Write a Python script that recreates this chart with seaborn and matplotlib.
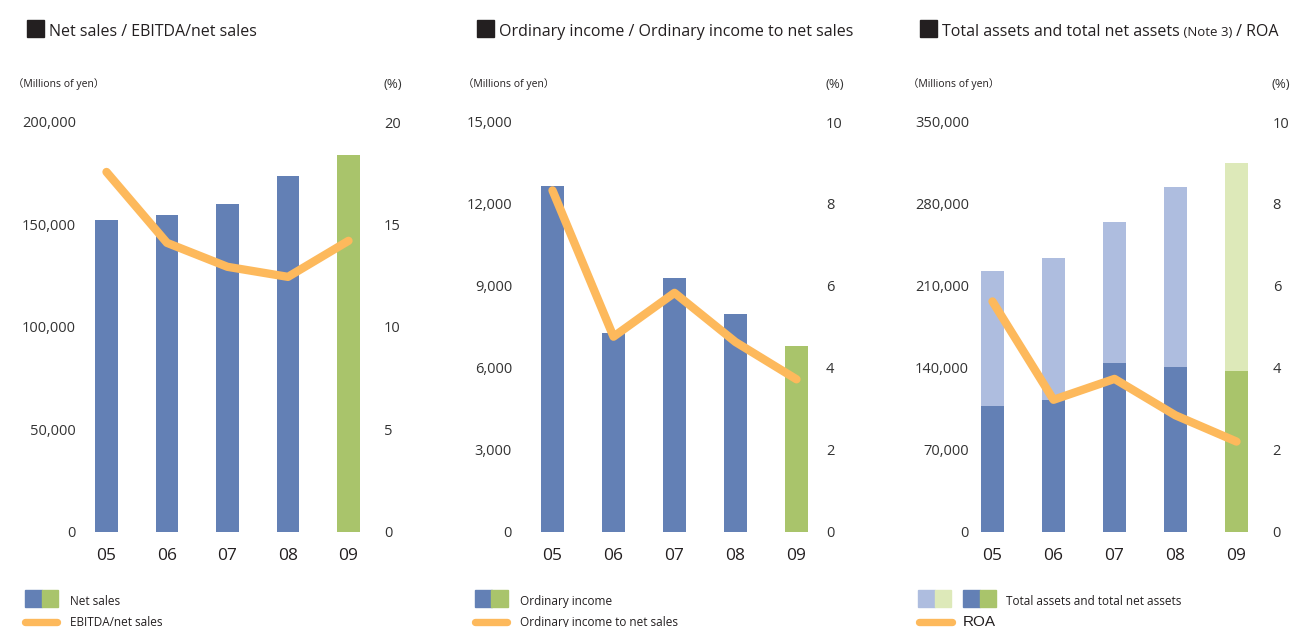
import numpy as np
import pandas as pd
import seaborn as sns
import matplotlib.pyplot as plt
from matplotlib.patches import Rectangle
from matplotlib.lines import Line2D
from matplotlib.ticker import FuncFormatter

# data
years = ['05', '06', '07', '08', '09']
net_sales = [152000, 154500, 159900, 173500, 183800]
ebitda_ratio = [17.56, 14.1, 12.93, 12.44, 14.2]
ordinary_income = [12650, 7270, 9280, 7965, 6790]
ordinary_ratio = [8.33, 4.76, 5.83, 4.63, 3.72]
total_assets = [222500, 233600, 264400, 294400, 314900]
net_assets = [107800, 112100, 143800, 140300, 137200]
roa = [5.62, 3.22, 3.73, 2.84, 2.2]

BLUE = '#6380b5'
GREEN = '#a9c46b'
LBLUE = '#aebddf'
LGREEN = '#dde9b9'
ORANGE = '#fdb95c'
TXT = '#231f20'

W, H = 1290, 627

sns.set_style('white')
plt.rcParams['font.family'] = ['Open Sans', 'Noto Sans CJK JP', 'DejaVu Sans']
plt.rcParams['text.color'] = TXT

fig = plt.figure(figsize=(W / 100, H / 100), dpi=100)


def fx(px):
    return px / W


def fy(py):
    return 1 - py / H


def pt(px):
    return px * 72 / 100


def make_axes(left, right, label_l, label_r):
    ax = fig.add_axes([fx(left), fy(531.7), fx(right - left), (531.7 - 122) / H])
    ax.tick_params(axis='y', length=0, pad=pt(left - label_l), labelsize=10.5,
                   labelcolor='#333333')
    ax.tick_params(axis='x', length=0, pad=12, labelsize=12.5, labelcolor=TXT)
    sns.despine(ax=ax, left=True, bottom=True)
    ax2 = ax.twinx()
    ax2.tick_params(axis='y', length=0, pad=pt(label_r - right), labelsize=10.5,
                    labelcolor='#333333')
    sns.despine(ax=ax2, left=True, bottom=True, right=True)
    return ax, ax2


def finish_axes(ax, c0, step, left, right):
    # bars are placed by category index; map the axes edges to that scale
    ax.set_xlim((left - c0) / step, (right - c0) / step)
    ax.set_xlabel('')
    ax.set_ylabel('')


def draw_bars(ax, col, colors):
    sns.barplot(data=df, x='year', y=col, hue='year', ax=ax, legend=False,
                palette=colors, width=0.38, saturation=1, linewidth=0)


def draw_line(ax2, values):
    sns.lineplot(x=np.arange(len(values)), y=values, ax=ax2, color=ORANGE,
                 lw=6, solid_capstyle='round', solid_joinstyle='round')


def header(x0, title, unit_x, pct_x):
    fig.patches.append(Rectangle((fx(x0), fy(37)), fx(16.5), 17 / H,
                                 transform=fig.transFigure, color=TXT))
    t = fig.text(fx(x0 + 22), fy(36), title, fontsize=11.5, va='baseline')
    fig.text(fx(unit_x - 5), fy(87.5), '（Millions of yen）', fontsize=7.5, va='baseline')
    fig.text(fx(pct_x), fy(88), '(%)', fontsize=9.5, va='baseline', color='#333333')
    return t


def swatch(x, y, color, w=16.5):
    fig.patches.append(Rectangle((fx(x), fy(y + 16.5)), fx(w), 16.5 / H,
                                 transform=fig.transFigure, color=color))


def legend_line(x0, x1, y):
    fig.lines.append(Line2D([fx(x0), fx(x1)], [fy(y), fy(y)], transform=fig.transFigure,
                            color=ORANGE, lw=5.3, solid_capstyle='round'))


fmt = FuncFormatter(lambda v, p: f'{int(v):,}')
df = pd.DataFrame({'year': years, 'net_sales': net_sales,
                   'ordinary_income': ordinary_income,
                   'total_assets': total_assets, 'net_assets': net_assets})
dark = [BLUE] * 4 + [GREEN]
light = [LBLUE] * 4 + [LGREEN]

# Chart 1
ax, ax2 = make_axes(82, 378, 76, 384)
draw_bars(ax, 'net_sales', dark)
ax.set_ylim(0, 200000)
ax.set_yticks(np.arange(0, 200001, 50000))
ax.yaxis.set_major_formatter(fmt)
finish_axes(ax, 106.5, 60.5, 82, 378)
ax2.set_ylim(0, 20)
ax2.set_yticks(np.arange(0, 21, 5))
draw_line(ax2, ebitda_ratio)
header(27, 'Net sales / EBITDA/net sales', 18, 383)
swatch(25, 590, BLUE)
swatch(41.5, 590, GREEN)
fig.text(fx(70), fy(605), 'Net sales', fontsize=8.5, va='baseline')
legend_line(25, 57, 621.5)
fig.text(fx(70), fy(626), 'EBITDA/net sales', fontsize=8.5, va='baseline')

# Chart 2
ax, ax2 = make_axes(518, 820, 512, 826)
draw_bars(ax, 'ordinary_income', dark)
ax.set_ylim(0, 15000)
ax.set_yticks(np.arange(0, 15001, 3000))
ax.yaxis.set_major_formatter(fmt)
finish_axes(ax, 552.5, 61, 518, 820)
ax2.set_ylim(0, 10)
ax2.set_yticks(np.arange(0, 11, 2))
draw_line(ax2, ordinary_ratio)
header(477, 'Ordinary income / Ordinary income to net sales', 468, 826)
swatch(475, 590, BLUE)
swatch(491.5, 590, GREEN)
fig.text(fx(520), fy(605), 'Ordinary income', fontsize=8.5, va='baseline')
legend_line(475, 507, 621.5)
fig.text(fx(520), fy(626), 'Ordinary income to net sales', fontsize=8.5, va='baseline')

# Chart 3: total assets drawn behind, net assets in front
ax, ax2 = make_axes(975, 1267, 969, 1272.7)
draw_bars(ax, 'total_assets', light)
draw_bars(ax, 'net_assets', dark)
ax.set_ylim(0, 350000)
ax.set_yticks(np.arange(0, 350001, 70000))
ax.yaxis.set_major_formatter(fmt)
finish_axes(ax, 992.5, 61, 975, 1267)
ax2.set_ylim(0, 10)
ax2.set_yticks(np.arange(0, 11, 2))
draw_line(ax2, roa)
t = header(920, 'Total assets and total net assets', 913, 1271)
t2 = fig.text(0, 0, ' (Note 3)', fontsize=9.5, va='baseline')
t3 = fig.text(0, 0, ' / ROA', fontsize=11.5, va='baseline')
fig.canvas.draw()
r = fig.canvas.get_renderer()
bb = t.get_window_extent(r)
t2.set_position((bb.x1 / W, fy(36)))
bb2 = t2.get_window_extent(r)
t3.set_position((bb2.x1 / W, fy(36)))
swatch(918, 590, LBLUE)
swatch(934.5, 590, LGREEN)
swatch(963, 590, BLUE)
swatch(979.5, 590, GREEN)
fig.text(fx(1006), fy(605), 'Total assets and total net assets', fontsize=8.5, va='baseline')
legend_line(918.5, 951.5, 621.5)
fig.text(fx(963), fy(625.5), 'ROA', fontsize=11, va='baseline', family='Liberation Sans')

fig.savefig('out.png', dpi=100, facecolor='white')
